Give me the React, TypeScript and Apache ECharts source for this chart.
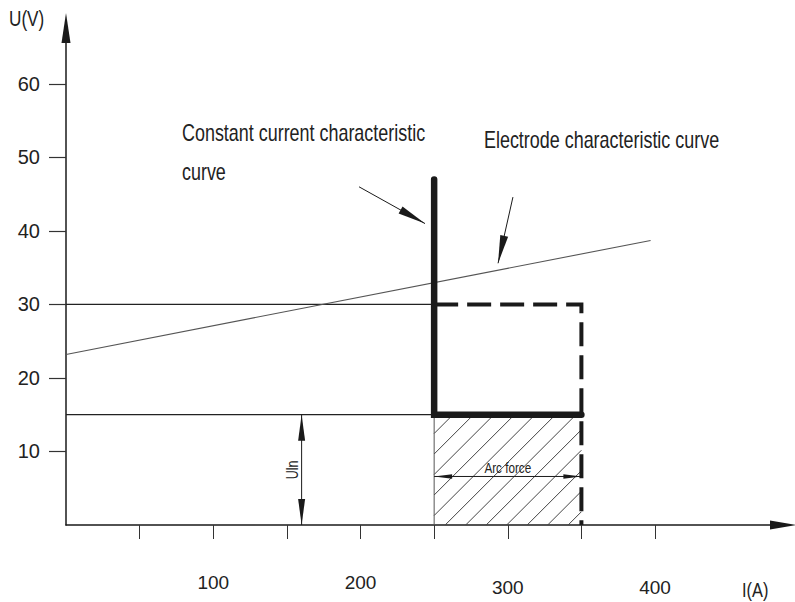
import React, { useEffect, useRef } from "react";
import * as echarts from "echarts";

// ---- data ----
const xTickValues = [50, 100, 150, 200, 250, 300, 350, 400];
const xLabelValues = [100, 200, 300, 400];
const yTickValues = [10, 20, 30, 40, 50, 60];
const electrodeCurve = [
  [0, 23.2],
  [397, 38.7],
];
const constantCurrentCurve = [
  [250, 47],
  [250, 15],
  [350, 15],
];
const arcForceLimit = [
  [250, 30],
  [350, 30],
  [350, 0],
];
const line30 = [
  [0, 30],
  [250, 30],
];
const line15 = [
  [0, 15],
  [250, 15],
];
const arcForceZone = [[250, 0, 350, 15]];
const pointerArrows = [
  [199, 46.0, 243.8, 41.0],
  [303.5, 44.6, 293.4, 35.6],
];
const ulnArrow = [[160, 0, 160, 15]];
const arcForceArrow = [[250, 6.6, 350, 6.6]];

const FONT = "'Liberation Sans', Arial, sans-serif";
const NARROW = 0.78;
const INK = "#1a1a1a";
const TEXT = "#222222";

function arrowHead(tip: number[], from: number[], len: number, w: number) {
  const dx = tip[0] - from[0];
  const dy = tip[1] - from[1];
  const d = Math.sqrt(dx * dx + dy * dy) || 1;
  const ux = dx / d;
  const uy = dy / d;
  const bx = tip[0] - ux * len;
  const by = tip[1] - uy * len;
  const px = -uy * (w / 2);
  const py = ux * (w / 2);
  return {
    type: "polygon",
    shape: { points: [tip, [bx + px, by + py], [bx - px, by - py]] },
    style: { fill: INK },
  };
}

function makeArrowRender(headLen: number, headW: number, both: boolean, label?: (a: number[], b: number[]) => any) {
  return (params: any, api: any) => {
    const a = api.coord([api.value(0), api.value(1)]);
    const b = api.coord([api.value(2), api.value(3)]);
    const children: any[] = [
      {
        type: "line",
        shape: { x1: a[0], y1: a[1], x2: b[0], y2: b[1] },
        style: { stroke: INK, lineWidth: 1 },
      },
      arrowHead(b, a, headLen, headW),
    ];
    if (both) children.push(arrowHead(a, b, headLen, headW));
    if (label) children.push(label(a, b));
    return { type: "group", children };
  };
}

function hatchRender(params: any, api: any) {
  const p0 = api.coord([api.value(0), api.value(1)]);
  const p1 = api.coord([api.value(2), api.value(3)]);
  const left = p0[0];
  const right = p1[0];
  const bottom = p0[1];
  const top = p1[1];
  const w = right - left;
  const h = bottom - top;
  const step = 20.5;
  const children: any[] = [
    {
      type: "line",
      shape: { x1: left, y1: bottom, x2: left, y2: top },
      style: { stroke: "#555", lineWidth: 1 },
    },
  ];
  for (let c = 11 - Math.ceil((h + 11) / step) * step; c < w; c += step) {
    let x1: number, y1: number, x2: number, y2: number;
    if (c >= 0) {
      x1 = left + c;
      y1 = bottom;
    } else {
      x1 = left;
      y1 = bottom + c;
    }
    if (c + h <= w) {
      x2 = left + c + h;
      y2 = top;
    } else {
      x2 = right;
      y2 = bottom - (w - c);
    }
    if (y1 < top || x1 > right) continue;
    children.push({
      type: "line",
      shape: { x1, y1, x2, y2 },
      style: { stroke: "#444", lineWidth: 1 },
    });
  }
  return { type: "group", children };
}

function narrowText(text: string, x: number, y: number, fontSize: number) {
  return {
    type: "text",
    x,
    y,
    scaleX: NARROW,
    style: {
      text,
      fontSize,
      fontFamily: FONT,
      fill: TEXT,
      align: "left",
      verticalAlign: "middle",
    },
  };
}

export default function App() {
  const ref = useRef<HTMLDivElement>(null);

  useEffect(() => {
    if (!ref.current) return;
    const chart = echarts.init(ref.current, null, { renderer: "svg" });

    const option: any = {
      animation: false,
      backgroundColor: "#ffffff",
      grid: { left: 66, right: 12, top: 28, bottom: 77, containLabel: false },
      xAxis: {
        type: "value",
        min: 0,
        max: 486.9,
        splitLine: { show: false },
        axisLine: {
          onZero: false,
          symbol: ["none", "triangle"],
          symbolSize: [9, 26],
          lineStyle: { color: INK, width: 1.5 },
        },
        axisTick: {
          customValues: xTickValues,
          length: 14,
          lineStyle: { color: "#333", width: 1 },
        },
        axisLabel: {
          customValues: xLabelValues,
          margin: 48,
          color: TEXT,
          fontSize: 19,
          fontFamily: FONT,
          formatter: (v: number) => (v >= 300 ? `{lo|${v}}` : `{hi|${v}}`),
          rich: {
            hi: { fontSize: 19, fontFamily: FONT, color: TEXT },
            lo: { fontSize: 19, fontFamily: FONT, color: TEXT, padding: [5, 0, 0, 0] },
          },
        },
      },
      yAxis: {
        type: "value",
        min: 0,
        max: 67.6,
        splitLine: { show: false },
        axisLine: {
          onZero: false,
          symbol: ["none", "triangle"],
          symbolSize: [9, 30],
          lineStyle: { color: INK, width: 1.5 },
        },
        axisTick: {
          customValues: yTickValues,
          length: 17,
          lineStyle: { color: "#333", width: 1.2 },
        },
        axisLabel: {
          customValues: yTickValues,
          margin: 26,
          color: TEXT,
          fontSize: 20,
          fontFamily: FONT,
        },
      },
      graphic: [
        narrowText("U(V)", 9, 18, 22),
        narrowText("I(A)", 742, 590, 21),
        narrowText("Constant current characteristic", 182, 133, 23),
        narrowText("curve", 182, 172, 23),
        narrowText("Electrode characteristic curve", 484, 140, 23),
      ],
      series: [
        {
          type: "custom",
          name: "Arc force zone",
          data: arcForceZone,
          encode: { x: [0, 2], y: [1, 3] },
          renderItem: hatchRender,
          silent: true,
          z: 1,
        },
        {
          type: "line",
          name: "30 V",
          data: line30,
          showSymbol: false,
          silent: true,
          lineStyle: { color: "#222", width: 1.2 },
          z: 2,
        },
        {
          type: "line",
          name: "15 V",
          data: line15,
          showSymbol: false,
          silent: true,
          lineStyle: { color: "#222", width: 1.2 },
          z: 2,
        },
        {
          type: "line",
          name: "Electrode characteristic curve",
          data: electrodeCurve,
          showSymbol: false,
          silent: true,
          lineStyle: { color: "#555", width: 1.1 },
          z: 2,
        },
        {
          type: "line",
          name: "Arc force limit",
          data: arcForceLimit,
          showSymbol: false,
          silent: true,
          lineStyle: { color: INK, width: 4, type: [24, 9], cap: "butt", join: "miter" },
          z: 3,
        },
        {
          type: "line",
          name: "Constant current characteristic curve",
          data: constantCurrentCurve,
          showSymbol: false,
          silent: true,
          lineStyle: { color: INK, width: 6.5, cap: "round", join: "miter" },
          z: 4,
        },
        {
          type: "custom",
          name: "pointers",
          data: pointerArrows,
          encode: { x: [0, 2], y: [1, 3] },
          renderItem: makeArrowRender(28, 8, false),
          silent: true,
          z: 5,
        },
        {
          type: "custom",
          name: "Uln",
          data: ulnArrow,
          encode: { x: [0, 2], y: [1, 3] },
          renderItem: makeArrowRender(26, 7, true, (a, b) => ({
            type: "text",
            x: a[0] - 9,
            y: (a[1] + b[1]) / 2,
            rotation: Math.PI / 2,
            scaleX: NARROW,
            style: {
              text: "Uln",
              fontSize: 16,
              fontFamily: FONT,
              fill: TEXT,
              align: "center",
              verticalAlign: "middle",
            },
          })),
          silent: true,
          z: 5,
        },
        {
          type: "custom",
          name: "Arc force",
          data: arcForceArrow,
          encode: { x: [0, 2], y: [1, 3] },
          renderItem: makeArrowRender(18, 4.5, true, (a, b) => ({
            type: "text",
            x: (a[0] + b[0]) / 2,
            y: a[1] - 8,
            scaleX: NARROW,
            style: {
              text: "Arc force",
              fontSize: 15,
              fontFamily: FONT,
              fill: TEXT,
              align: "center",
              verticalAlign: "middle",
            },
          })),
          silent: true,
          z: 5,
        },
      ],
    };

    chart.setOption(option);
    return () => chart.dispose();
  }, []);

  return (
    <div
      ref={ref}
      style={{ position: "fixed", left: 0, top: 0, width: 795, height: 602, background: "#fff" }}
    />
  );
}
